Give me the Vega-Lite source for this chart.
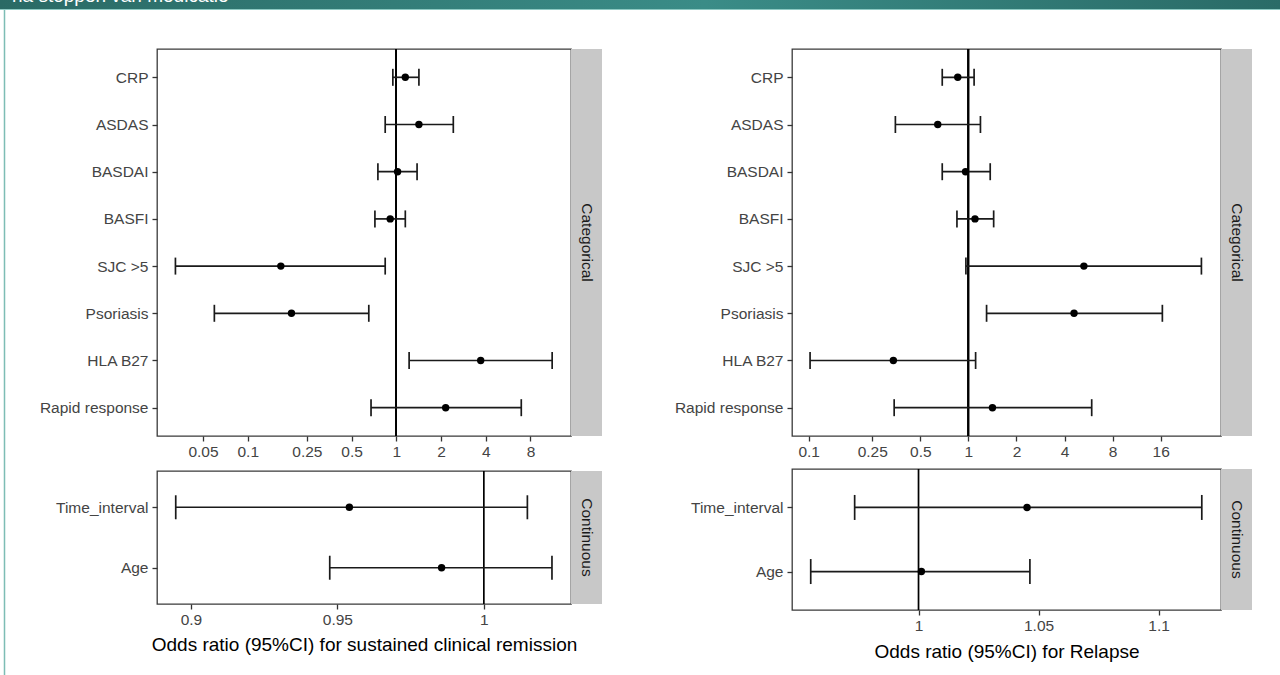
{
  "$schema": "https://vega.github.io/schema/vega-lite/v6.json",
  "padding": 0,
  "background": "white",
  "datasets": {
    "remCat": [
      {"var": "CRP", "or": 1.15, "lo": 0.948, "hi": 1.42},
      {"var": "ASDAS", "or": 1.42, "lo": 0.842, "hi": 2.42},
      {"var": "BASDAI", "or": 1.02, "lo": 0.752, "hi": 1.38},
      {"var": "BASFI", "or": 0.91, "lo": 0.718, "hi": 1.15},
      {"var": "SJC >5", "or": 0.167, "lo": 0.0326, "hi": 0.842},
      {"var": "Psoriasis", "or": 0.197, "lo": 0.0596, "hi": 0.653},
      {"var": "HLA B27", "or": 3.7, "lo": 1.22, "hi": 11.2},
      {"var": "Rapid response", "or": 2.15, "lo": 0.676, "hi": 6.94}
    ],
    "remCont": [
      {"var": "Time_interval", "or": 0.9541, "lo": 0.8948, "hi": 1.0149},
      {"var": "Age", "or": 0.9856, "lo": 0.9474, "hi": 1.0233}
    ],
    "relCat": [
      {"var": "CRP", "or": 0.858, "lo": 0.686, "hi": 1.086},
      {"var": "ASDAS", "or": 0.643, "lo": 0.349, "hi": 1.19},
      {"var": "BASDAI", "or": 0.96, "lo": 0.686, "hi": 1.37},
      {"var": "BASFI", "or": 1.1, "lo": 0.848, "hi": 1.44},
      {"var": "SJC >5", "or": 5.29, "lo": 0.965, "hi": 28.8},
      {"var": "Psoriasis", "or": 4.59, "lo": 1.3, "hi": 16.4},
      {"var": "HLA B27", "or": 0.339, "lo": 0.102, "hi": 1.11},
      {"var": "Rapid response", "or": 1.415, "lo": 0.343, "hi": 5.92}
    ],
    "relCont": [
      {"var": "Time_interval", "or": 1.0452, "lo": 0.9734, "hi": 1.118},
      {"var": "Age", "or": 1.0012, "lo": 0.9551, "hi": 1.0464}
    ],
    "stripCat": [{"label": "Categorical"}],
    "stripCont": [{"label": "Continuous"}],
    "header": [{"t": "na stoppen van medicatie"}],
    "one": [{"k": 1}],
    "none": []
  },
  "vconcat": [
    {
      "width": 1280, "height": 9,
      "view": {"stroke": null},
      "data": {"name": "header"},
      "layer": [
        {"mark": {"type": "rect", "fill": {"gradient": "linear", "x1": 0, "x2": 1, "y1": 0, "y2": 0, "stops": [{"offset": 0, "color": "#2a6a65"}, {"offset": 0.55, "color": "#3a8c87"}, {"offset": 1, "color": "#2a6b67"}]}}},
        {"mark": {"type": "text", "align": "left", "baseline": "alphabetic", "color": "white", "fontSize": 19, "font": "Liberation Sans", "dx": 12, "dy": 1.5, "clip": true},
         "encoding": {
           "text": {"field": "t"},
           "x": {"datum": 0, "type": "quantitative", "scale": {"domain": [0, 1]}, "axis": null},
           "y": {"datum": 1, "type": "quantitative", "scale": {"domain": [0, 1]}, "axis": null}
         }}
      ]
    },
    {
      "width": 1280, "height": 1,
      "view": {"stroke": null},
      "data": {"name": "one"},
      "mark": {"type": "rect", "color": "#8ecac3"}
    },
    {
      "hconcat": [
        {
          "width": 5, "height": 665,
          "view": {"stroke": null},
          "data": {"name": "one"},
          "mark": {"type": "rule", "color": "#7dbdb5", "strokeWidth": 1.5},
          "encoding": {"x": {"datum": 0.9, "type": "quantitative", "scale": {"domain": [0, 1]}, "axis": null}}
        },
        {
          "vconcat": [
            {"width": 1, "height": 1, "view": {"stroke": null}, "data": {"name": "none"}, "mark": "point"},
            {
              "hconcat": [
                {
                  "vconcat": [
                    {
                      "hconcat": [
                        {
                          "width": 414, "height": 387,
                          "data": {"name": "remCat"},
                          "layer": [
                            {"mark": {"type": "rule", "color": "#000000", "strokeWidth": 1.4},
                             "encoding": {"x": {"datum": 1, "type": "quantitative", "title": null, "scale": {"type": "log", "domain": [0.0245, 15.0], "nice": false},
                               "axis": {"values": [0.05, 0.1, 0.25, 0.5, 1, 2, 4, 8], "format": "~g", "title": null}}}},
                            {
                              "encoding": {"y": {"field": "var", "type": "nominal", "sort": ["CRP", "ASDAS", "BASDAI", "BASFI", "SJC >5", "Psoriasis", "HLA B27", "Rapid response"], "scale": {"type": "point", "padding": 0.6}, "axis": {"title": null}}},
                              "layer": [
                                {"mark": {"type": "rule", "color": "#1a1a1a", "strokeWidth": 1.7},
                                 "encoding": {"x": {"field": "lo", "type": "quantitative", "title": null}, "x2": {"field": "hi"}}},
                                {"mark": {"type": "tick", "color": "#1a1a1a", "thickness": 1.7, "size": 17, "opacity": 1},
                                 "encoding": {"x": {"field": "lo", "type": "quantitative", "title": null}}},
                                {"mark": {"type": "tick", "color": "#1a1a1a", "thickness": 1.7, "size": 17, "opacity": 1},
                                 "encoding": {"x": {"field": "hi", "type": "quantitative", "title": null}}},
                                {"mark": {"type": "point", "filled": true, "size": 55, "color": "#000000", "opacity": 1},
                                 "encoding": {"x": {"field": "or", "type": "quantitative", "title": null}}}
                              ]
                            }
                          ]
                        },
                        {
                          "width": 31, "height": 387,
                          "view": {"fill": "#c8c8c8"},
                          "data": {"name": "stripCat"},
                          "mark": {"type": "text", "angle": 90, "fontSize": 15.5, "color": "#1a1a1a", "align": "center", "baseline": "middle"},
                          "encoding": {"text": {"field": "label"}}
                        }
                      ],
                      "spacing": 0, "bounds": "flush"
                    },
                    {
                      "hconcat": [
                        {
                          "width": 414, "height": 133,
                          "data": {"name": "remCont"},
                          "layer": [
                            {"mark": {"type": "rule", "color": "#000000", "strokeWidth": 1.4},
                             "encoding": {"x": {"datum": 1, "type": "quantitative", "title": "Odds ratio (95%CI) for sustained clinical remission", "scale": {"domain": [0.8884, 1.0298], "nice": false, "zero": false},
                               "axis": {"values": [0.9, 0.95, 1], "format": "~g", "title": "Odds ratio (95%CI) for sustained clinical remission", "titlePadding": 8}}}},
                            {
                              "encoding": {"y": {"field": "var", "type": "nominal", "sort": ["Time_interval", "Age"], "scale": {"type": "point", "padding": 0.6}, "axis": {"title": null}}},
                              "layer": [
                                {"mark": {"type": "rule", "color": "#1a1a1a", "strokeWidth": 1.7},
                                 "encoding": {"x": {"field": "lo", "type": "quantitative", "title": "Odds ratio (95%CI) for sustained clinical remission"}, "x2": {"field": "hi"}}},
                                {"mark": {"type": "tick", "color": "#1a1a1a", "thickness": 1.7, "size": 24, "opacity": 1},
                                 "encoding": {"x": {"field": "lo", "type": "quantitative", "title": "Odds ratio (95%CI) for sustained clinical remission"}}},
                                {"mark": {"type": "tick", "color": "#1a1a1a", "thickness": 1.7, "size": 24, "opacity": 1},
                                 "encoding": {"x": {"field": "hi", "type": "quantitative", "title": "Odds ratio (95%CI) for sustained clinical remission"}}},
                                {"mark": {"type": "point", "filled": true, "size": 55, "color": "#000000", "opacity": 1},
                                 "encoding": {"x": {"field": "or", "type": "quantitative", "title": "Odds ratio (95%CI) for sustained clinical remission"}}}
                              ]
                            }
                          ]
                        },
                        {
                          "width": 31, "height": 133,
                          "view": {"fill": "#c8c8c8"},
                          "data": {"name": "stripCont"},
                          "mark": {"type": "text", "angle": 90, "fontSize": 15.5, "color": "#1a1a1a", "align": "center", "baseline": "middle"},
                          "encoding": {"text": {"field": "label"}}
                        }
                      ],
                      "spacing": 0, "bounds": "flush"
                    }
                  ],
                  "spacing": 422, "bounds": "flush"
                },
                {
                  "vconcat": [
                    {
                      "hconcat": [
                        {
                          "width": 429, "height": 387,
                          "data": {"name": "relCat"},
                          "layer": [
                            {"mark": {"type": "rule", "color": "#000000", "strokeWidth": 1.4},
                             "encoding": {"x": {"datum": 1, "type": "quantitative", "title": null, "scale": {"type": "log", "domain": [0.0786, 38.2], "nice": false},
                               "axis": {"values": [0.1, 0.25, 0.5, 1, 2, 4, 8, 16], "format": "~g", "title": null}}}},
                            {
                              "encoding": {"y": {"field": "var", "type": "nominal", "sort": ["CRP", "ASDAS", "BASDAI", "BASFI", "SJC >5", "Psoriasis", "HLA B27", "Rapid response"], "scale": {"type": "point", "padding": 0.6}, "axis": {"title": null}}},
                              "layer": [
                                {"mark": {"type": "rule", "color": "#1a1a1a", "strokeWidth": 1.7},
                                 "encoding": {"x": {"field": "lo", "type": "quantitative", "title": null}, "x2": {"field": "hi"}}},
                                {"mark": {"type": "tick", "color": "#1a1a1a", "thickness": 1.7, "size": 17, "opacity": 1},
                                 "encoding": {"x": {"field": "lo", "type": "quantitative", "title": null}}},
                                {"mark": {"type": "tick", "color": "#1a1a1a", "thickness": 1.7, "size": 17, "opacity": 1},
                                 "encoding": {"x": {"field": "hi", "type": "quantitative", "title": null}}},
                                {"mark": {"type": "point", "filled": true, "size": 55, "color": "#000000", "opacity": 1},
                                 "encoding": {"x": {"field": "or", "type": "quantitative", "title": null}}}
                              ]
                            }
                          ]
                        },
                        {
                          "width": 31, "height": 387,
                          "view": {"fill": "#c8c8c8"},
                          "data": {"name": "stripCat"},
                          "mark": {"type": "text", "angle": 90, "fontSize": 15.5, "color": "#1a1a1a", "align": "center", "baseline": "middle"},
                          "encoding": {"text": {"field": "label"}}
                        }
                      ],
                      "spacing": 0, "bounds": "flush"
                    },
                    {
                      "hconcat": [
                        {
                          "width": 429, "height": 141,
                          "data": {"name": "relCont"},
                          "layer": [
                            {"mark": {"type": "rule", "color": "#000000", "strokeWidth": 1.4},
                             "encoding": {"x": {"datum": 1, "type": "quantitative", "title": "Odds ratio (95%CI) for Relapse", "scale": {"domain": [0.9473, 1.126], "nice": false, "zero": false},
                               "axis": {"values": [1, 1.05, 1.1], "format": "~g", "title": "Odds ratio (95%CI) for Relapse", "titlePadding": 9}}}},
                            {
                              "encoding": {"y": {"field": "var", "type": "nominal", "sort": ["Time_interval", "Age"], "scale": {"type": "point", "padding": 0.6}, "axis": {"title": null}}},
                              "layer": [
                                {"mark": {"type": "rule", "color": "#1a1a1a", "strokeWidth": 1.7},
                                 "encoding": {"x": {"field": "lo", "type": "quantitative", "title": "Odds ratio (95%CI) for Relapse"}, "x2": {"field": "hi"}}},
                                {"mark": {"type": "tick", "color": "#1a1a1a", "thickness": 1.7, "size": 25, "opacity": 1},
                                 "encoding": {"x": {"field": "lo", "type": "quantitative", "title": "Odds ratio (95%CI) for Relapse"}}},
                                {"mark": {"type": "tick", "color": "#1a1a1a", "thickness": 1.7, "size": 25, "opacity": 1},
                                 "encoding": {"x": {"field": "hi", "type": "quantitative", "title": "Odds ratio (95%CI) for Relapse"}}},
                                {"mark": {"type": "point", "filled": true, "size": 55, "color": "#000000", "opacity": 1},
                                 "encoding": {"x": {"field": "or", "type": "quantitative", "title": "Odds ratio (95%CI) for Relapse"}}}
                              ]
                            }
                          ]
                        },
                        {
                          "width": 31, "height": 141,
                          "view": {"fill": "#c8c8c8"},
                          "data": {"name": "stripCont"},
                          "mark": {"type": "text", "angle": 90, "fontSize": 15.5, "color": "#1a1a1a", "align": "center", "baseline": "middle"},
                          "encoding": {"text": {"field": "label"}}
                        }
                      ],
                      "spacing": 0, "bounds": "flush"
                    }
                  ],
                  "spacing": 420, "bounds": "flush"
                }
              ],
              "spacing": 635, "bounds": "flush"
            }
          ],
          "spacing": 38, "bounds": "flush"
        }
      ],
      "spacing": 152, "bounds": "flush"
    }
  ],
  "spacing": 0,
  "bounds": "flush",
  "config": {
    "font": "Liberation Sans",
    "view": {"stroke": "#3a3a3a", "strokeWidth": 1.3},
    "axis": {
      "domain": false, "grid": false,
      "labelFont": "Liberation Sans", "labelFontSize": 15.5, "labelColor": "#444444",
      "tickColor": "#333333", "tickSize": 5, "tickWidth": 1.3, "labelPadding": 3,
      "titleFont": "Liberation Sans", "titleFontSize": 19, "titleFontWeight": "normal", "titleColor": "#000000",
      "labelFlush": false, "labelOverlap": false
    },
    "axisY": {"labelPadding": 4, "labelLimit": 300}
  }
}
